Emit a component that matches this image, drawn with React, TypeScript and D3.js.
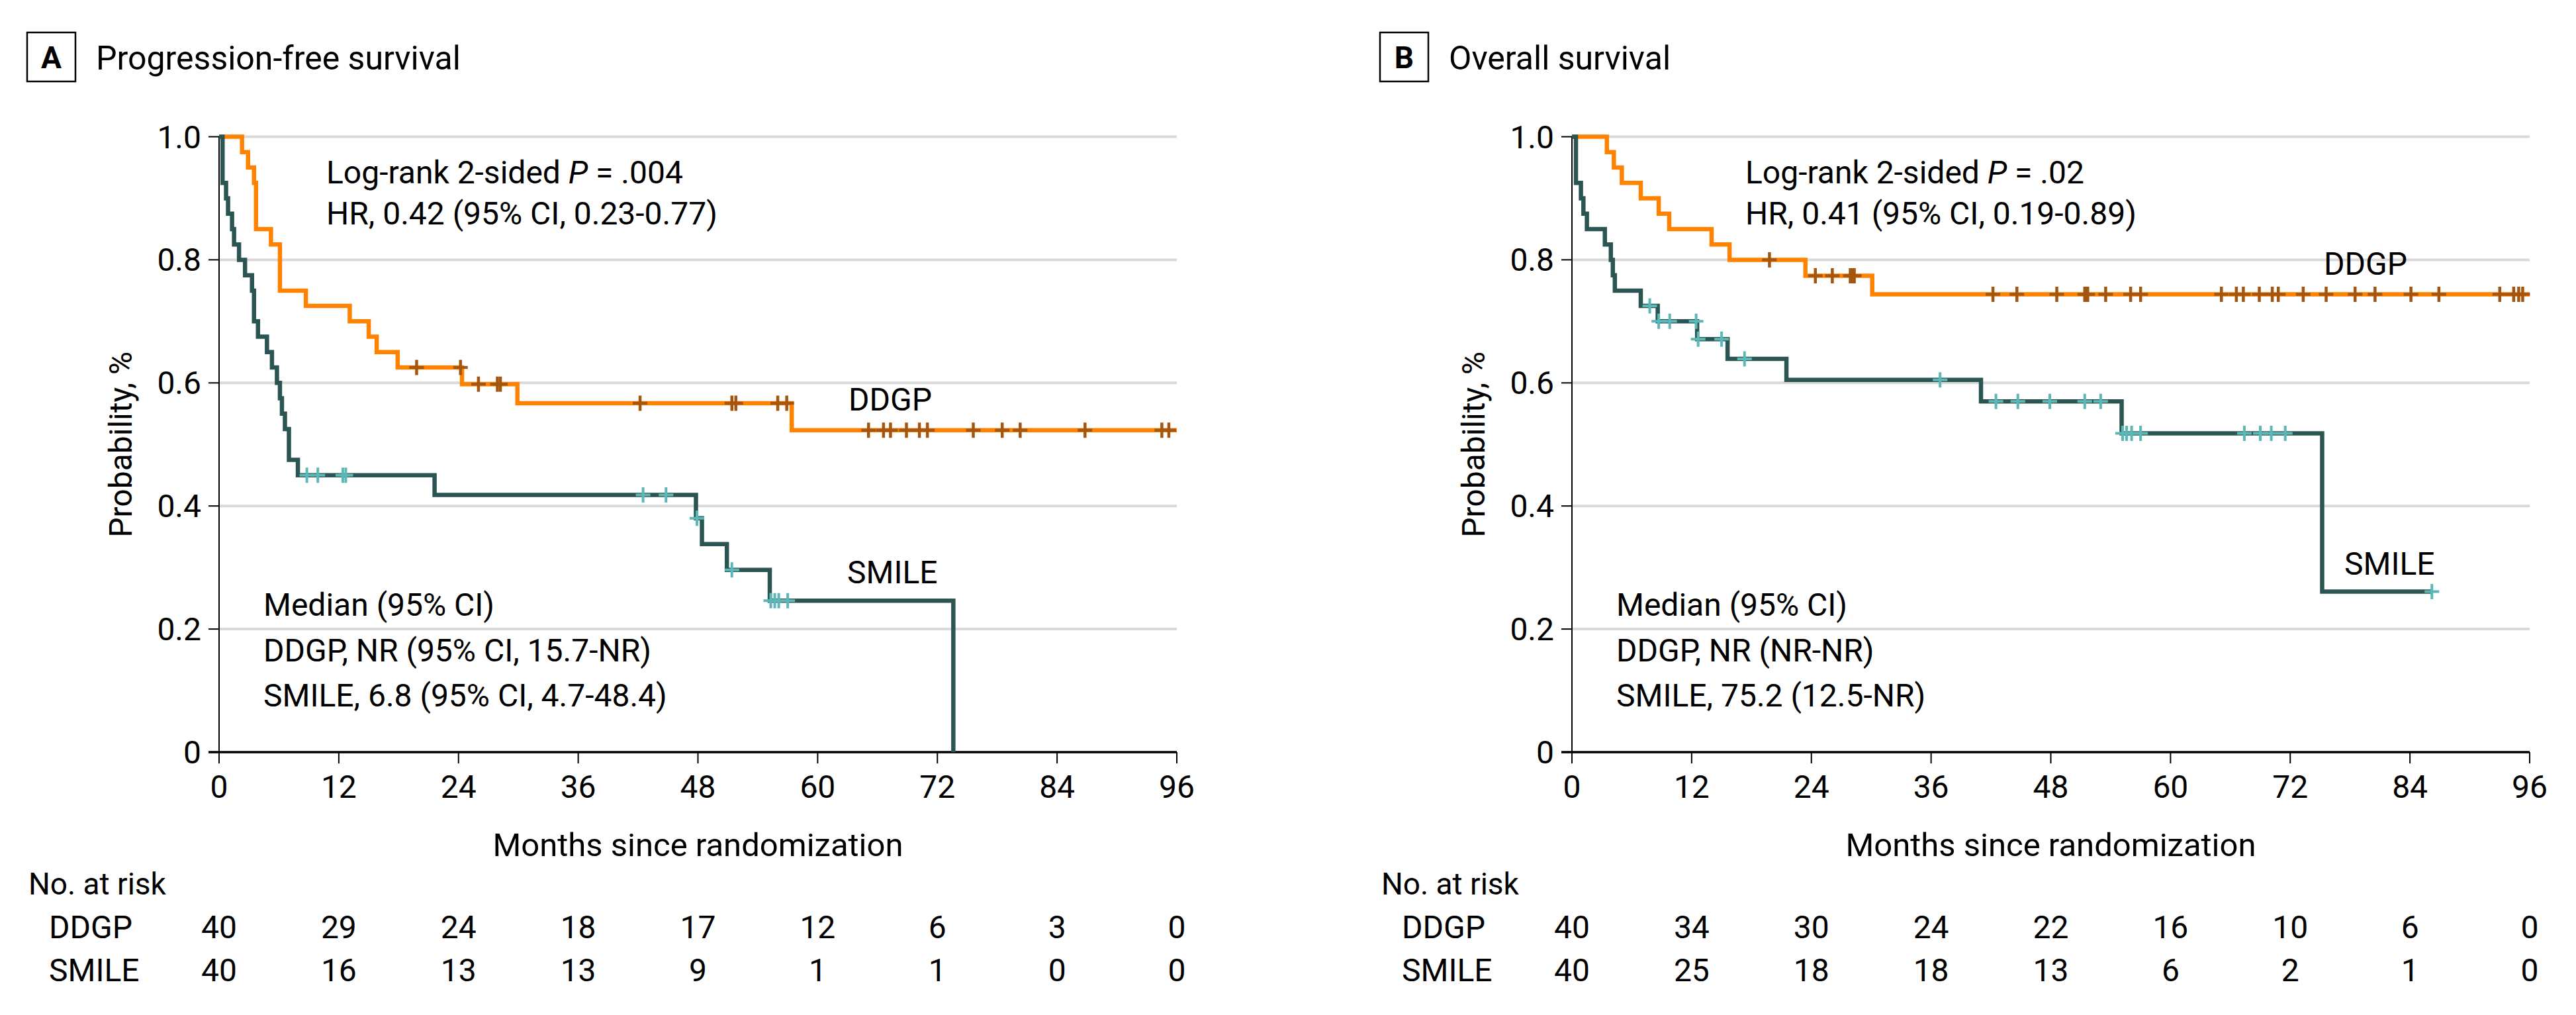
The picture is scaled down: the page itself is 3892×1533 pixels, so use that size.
import React from 'react';
import * as d3 from 'd3';

// ---------- data ----------
const MONTH_TICKS = [0, 12, 24, 36, 48, 60, 72, 84, 96];
const PROB_TICKS = [0, 0.2, 0.4, 0.6, 0.8, 1.0];
const PROB_TICK_LABELS = ['0', '0.2', '0.4', '0.6', '0.8', '1.0'];
const GROUPS = ['DDGP', 'SMILE'];

// Progression-free survival (months, survival probability)
const PFS_DDGP_STEPS: [number, number][] = [
  [0, 1], [2.3, 0.975], [2.9, 0.95], [3.5, 0.925], [3.7, 0.85], [5.2, 0.825], [6.1, 0.75],
  [8.7, 0.725], [13.1, 0.7], [15.0, 0.675], [15.8, 0.65], [17.9, 0.625], [24.35, 0.598],
  [29.9, 0.567], [57.4, 0.523],
];
const PFS_DDGP_END = 96;
const PFS_DDGP_CENSOR = [19.8, 24.2, 26.0, 27.9, 28.2, 42.2, 51.4, 51.8, 56.0, 56.9, 65.1, 66.6,
  67.3, 68.9, 70.2, 71.0, 75.6, 78.5, 80.3, 86.8, 94.5, 95.2];

const PFS_SMILE_STEPS: [number, number][] = [
  [0, 1], [0.35, 0.925], [0.7, 0.9], [0.9, 0.875], [1.3, 0.85], [1.5, 0.825], [2.0, 0.8],
  [2.6, 0.775], [3.3, 0.75], [3.5, 0.7], [3.9, 0.675], [4.8, 0.65], [5.3, 0.625], [5.8, 0.6],
  [6.1, 0.575], [6.3, 0.55], [6.6, 0.525], [7.0, 0.475], [7.9, 0.45], [21.6, 0.418],
  [47.8, 0.38], [48.4, 0.338], [50.9, 0.296], [55.2, 0.246], [73.6, 0],
];
const PFS_SMILE_END = 73.6;
const PFS_SMILE_CENSOR = [8.8, 9.9, 12.4, 12.7, 42.5, 44.8, 47.9, 51.4, 55.3, 55.7, 56.1, 57.0];

// Overall survival
const OS_DDGP_STEPS: [number, number][] = [
  [0, 1], [3.5, 0.975], [4.2, 0.95], [5.0, 0.925], [6.9, 0.9], [8.7, 0.875], [9.75, 0.85],
  [14.0, 0.825], [15.8, 0.8], [23.4, 0.774], [30.1, 0.744],
];
const OS_DDGP_END = 96;
const OS_DDGP_CENSOR = [19.8, 24.4, 26.1, 27.9, 28.1, 28.3, 42.2, 44.6, 48.6, 51.4, 51.7, 53.5,
  56.0, 57.0, 65.1, 66.6, 67.3, 68.9, 70.2, 70.8, 73.3, 75.6, 78.5, 80.5, 84.1, 86.9, 93.0,
  94.4, 94.9, 95.3];

const OS_SMILE_STEPS: [number, number][] = [
  [0, 1], [0.4, 0.925], [0.9, 0.9], [1.15, 0.875], [1.5, 0.85], [3.3, 0.825], [3.9, 0.8],
  [4.1, 0.775], [4.3, 0.75], [6.9, 0.725], [8.6, 0.7], [12.55, 0.671], [15.6, 0.639],
  [21.5, 0.605], [41.0, 0.57], [55.1, 0.518], [75.2, 0.261],
];
const OS_SMILE_END = 86.2;
const OS_SMILE_CENSOR = [7.8, 8.7, 9.8, 12.45, 12.65, 15.0, 17.3, 36.9, 42.5, 44.7, 47.9, 51.4,
  53.0, 55.2, 55.6, 56.1, 57.0, 67.4, 69.0, 70.1, 71.5, 86.2];

// Numbers at risk
const PFS_RISK_DDGP = [40, 29, 24, 18, 17, 12, 6, 3, 0];
const PFS_RISK_SMILE = [40, 16, 13, 13, 9, 1, 1, 0, 0];
const OS_RISK_DDGP = [40, 34, 30, 24, 22, 16, 10, 6, 0];
const OS_RISK_SMILE = [40, 25, 18, 18, 13, 6, 2, 1, 0];

// ---------- style ----------
const FONT = 'Roboto, "Liberation Sans", Arial, sans-serif';
const ORANGE = '#ff8300';
const ORANGE_CENSOR = '#a4550f';
const TEAL = '#2b5553';
const TEAL_CENSOR = '#5cb8b6';
const GRID = '#d9d9d9';

type PanelProps = {
  ax0: number;
  letter: string;
  title: string;
  pText: string;
  hrText: string;
  medianLines: string[];
  logX: number;
  ddgp: { steps: [number, number][]; end: number; censor: number[] };
  smile: { steps: [number, number][]; end: number; censor: number[] };
  riskD: number[];
  riskS: number[];
  ddgpLabel: [number, number];
  smileLabel: [number, number];
};

function survAt(steps: [number, number][], t: number) {
  let s = steps[0][1];
  for (const [tt, v] of steps) {
    if (tt <= t) s = v;
    else break;
  }
  return s;
}

function Panel(p: PanelProps) {
  const x = d3.scaleLinear().domain([0, 96]).range([p.ax0, p.ax0 + 1447]);
  const y = d3.scaleLinear().domain([0, 1]).range([1136, 206.5]);
  const line = d3
    .line<[number, number]>()
    .x((d) => x(d[0]))
    .y((d) => y(d[1]))
    .curve(d3.curveStepAfter);

  const pathFor = (s: { steps: [number, number][]; end: number }) => {
    const pts = [...s.steps];
    const last = pts[pts.length - 1];
    if (s.end > last[0]) pts.push([s.end, last[1]]);
    return line(pts) || '';
  };

  const cross = (t: number, steps: [number, number][], color: string, sw: number, key: string) => {
    const cx = x(t);
    const cy = y(survAt(steps, t));
    return (
      <path
        key={key}
        d={`M${cx - 11},${cy}H${cx + 11}M${cx},${cy - 11.5}V${cy + 11.5}`}
        stroke={color}
        strokeWidth={sw}
        fill="none"
      />
    );
  };

  const xMid = (x.range()[0] + x.range()[1]) / 2;
  const yMid = (y(0) + y(1)) / 2;

  return (
    <g fontFamily={FONT} fill="#000">
      {/* title */}
      <rect x={p.ax0 - 290} y={49} width={73} height={74} fill="none" stroke="#000" strokeWidth={2.5} />
      <text x={p.ax0 - 253.5} y={103} fontSize={46} fontWeight="bold" textAnchor="middle">
        {p.letter}
      </text>
      <text x={p.ax0 - 186} y={105} fontSize={50}>
        {p.title}
      </text>

      {/* grid */}
      {PROB_TICKS.filter((v) => v > 0).map((v) => (
        <line key={'g' + v} x1={x(0)} x2={x(96)} y1={y(v)} y2={y(v)} stroke={GRID} strokeWidth={4} />
      ))}

      {/* y axis */}
      <line x1={x(0)} x2={x(0)} y1={y(0)} y2={y(1)} stroke="#000" strokeWidth={2} />
      {PROB_TICKS.map((v, i) => (
        <g key={'yt' + v}>
          <line x1={x(0) - 16} x2={x(0)} y1={y(v)} y2={y(v)} stroke="#000" strokeWidth={2} />
          <text x={x(0) - 27} y={y(v) + 17} fontSize={48} textAnchor="end">
            {PROB_TICK_LABELS[i]}
          </text>
        </g>
      ))}
      <text
        transform={`translate(${p.ax0 - 132},${yMid}) rotate(-90)`}
        fontSize={48}
        textAnchor="middle"
      >
        Probability, %
      </text>

      {/* x axis */}
      {MONTH_TICKS.map((m) => (
        <g key={'xt' + m}>
          <line x1={x(m)} x2={x(m)} y1={y(0)} y2={y(0) + 17} stroke="#000" strokeWidth={2} />
          <text x={x(m)} y={1205} fontSize={48} textAnchor="middle">
            {m}
          </text>
        </g>
      ))}
      <line x1={x(0) - 16} x2={x(96)} y1={y(0)} y2={y(0)} stroke="#000" strokeWidth={3.5} />
      <text x={xMid} y={1293} fontSize={49} textAnchor="middle">
        Months since randomization
      </text>

      {/* curves */}
      <path d={pathFor(p.ddgp)} fill="none" stroke={ORANGE} strokeWidth={6.5} />
      <path d={pathFor(p.smile)} fill="none" stroke={TEAL} strokeWidth={6.5} />
      {p.ddgp.censor.map((t, i) => cross(t, p.ddgp.steps, ORANGE_CENSOR, 4.5, 'cd' + i))}
      {p.smile.censor.map((t, i) => cross(t, p.smile.steps, TEAL_CENSOR, 4, 'cs' + i))}

      {/* curve labels */}
      <text x={p.ddgpLabel[0]} y={p.ddgpLabel[1]} fontSize={48}>
        {GROUPS[0]}
      </text>
      <text x={p.smileLabel[0]} y={p.smileLabel[1]} fontSize={48}>
        {GROUPS[1]}
      </text>

      {/* annotations */}
      <text x={p.logX} y={277} fontSize={48}>
        Log-rank 2-sided <tspan fontStyle="italic">P</tspan> = {p.pText}
      </text>
      <text x={p.logX} y={339} fontSize={48}>
        {p.hrText}
      </text>
      {p.medianLines.map((s, i) => (
        <text key={'m' + i} x={p.ax0 + 67} y={930 + i * 68.5} fontSize={48}>
          {s}
        </text>
      ))}

      {/* risk table */}
      <text x={p.ax0 - 288} y={1351} fontSize={46}>
        No. at risk
      </text>
      <text x={p.ax0 - 257} y={1417} fontSize={48}>
        {GROUPS[0]}
      </text>
      <text x={p.ax0 - 257} y={1482} fontSize={48}>
        {GROUPS[1]}
      </text>
      {MONTH_TICKS.map((m, i) => (
        <g key={'r' + m}>
          <text x={x(m)} y={1417} fontSize={48} textAnchor="middle">
            {p.riskD[i]}
          </text>
          <text x={x(m)} y={1482} fontSize={48} textAnchor="middle">
            {p.riskS[i]}
          </text>
        </g>
      ))}
    </g>
  );
}

export default function App() {
  return (
    <svg
      width={3892}
      height={1533}
      viewBox="0 0 3892 1533"
      style={{ position: 'absolute', left: 0, top: 0, background: '#fff' }}
    >
      <rect x={0} y={0} width={3892} height={1533} fill="#fff" />
      <Panel
        ax0={331}
        letter="A"
        title="Progression-free survival"
        pText=".004"
        hrText="HR, 0.42 (95% CI, 0.23-0.77)"
        medianLines={['Median (95% CI)', 'DDGP, NR (95% CI, 15.7-NR)', 'SMILE, 6.8 (95% CI, 4.7-48.4)']}
        logX={493}
        ddgp={{ steps: PFS_DDGP_STEPS, end: PFS_DDGP_END, censor: PFS_DDGP_CENSOR }}
        smile={{ steps: PFS_SMILE_STEPS, end: PFS_SMILE_END, censor: PFS_SMILE_CENSOR }}
        riskD={PFS_RISK_DDGP}
        riskS={PFS_RISK_SMILE}
        ddgpLabel={[1282, 620]}
        smileLabel={[1280, 881]}
      />
      <Panel
        ax0={2375}
        letter="B"
        title="Overall survival"
        pText=".02"
        hrText="HR, 0.41 (95% CI, 0.19-0.89)"
        medianLines={['Median (95% CI)', 'DDGP, NR (NR-NR)', 'SMILE, 75.2 (12.5-NR)']}
        logX={2637}
        ddgp={{ steps: OS_DDGP_STEPS, end: OS_DDGP_END, censor: OS_DDGP_CENSOR }}
        smile={{ steps: OS_SMILE_STEPS, end: OS_SMILE_END, censor: OS_SMILE_CENSOR }}
        riskD={OS_RISK_DDGP}
        riskS={OS_RISK_SMILE}
        ddgpLabel={[3511, 415]}
        smileLabel={[3542, 868]}
      />
    </svg>
  );
}
